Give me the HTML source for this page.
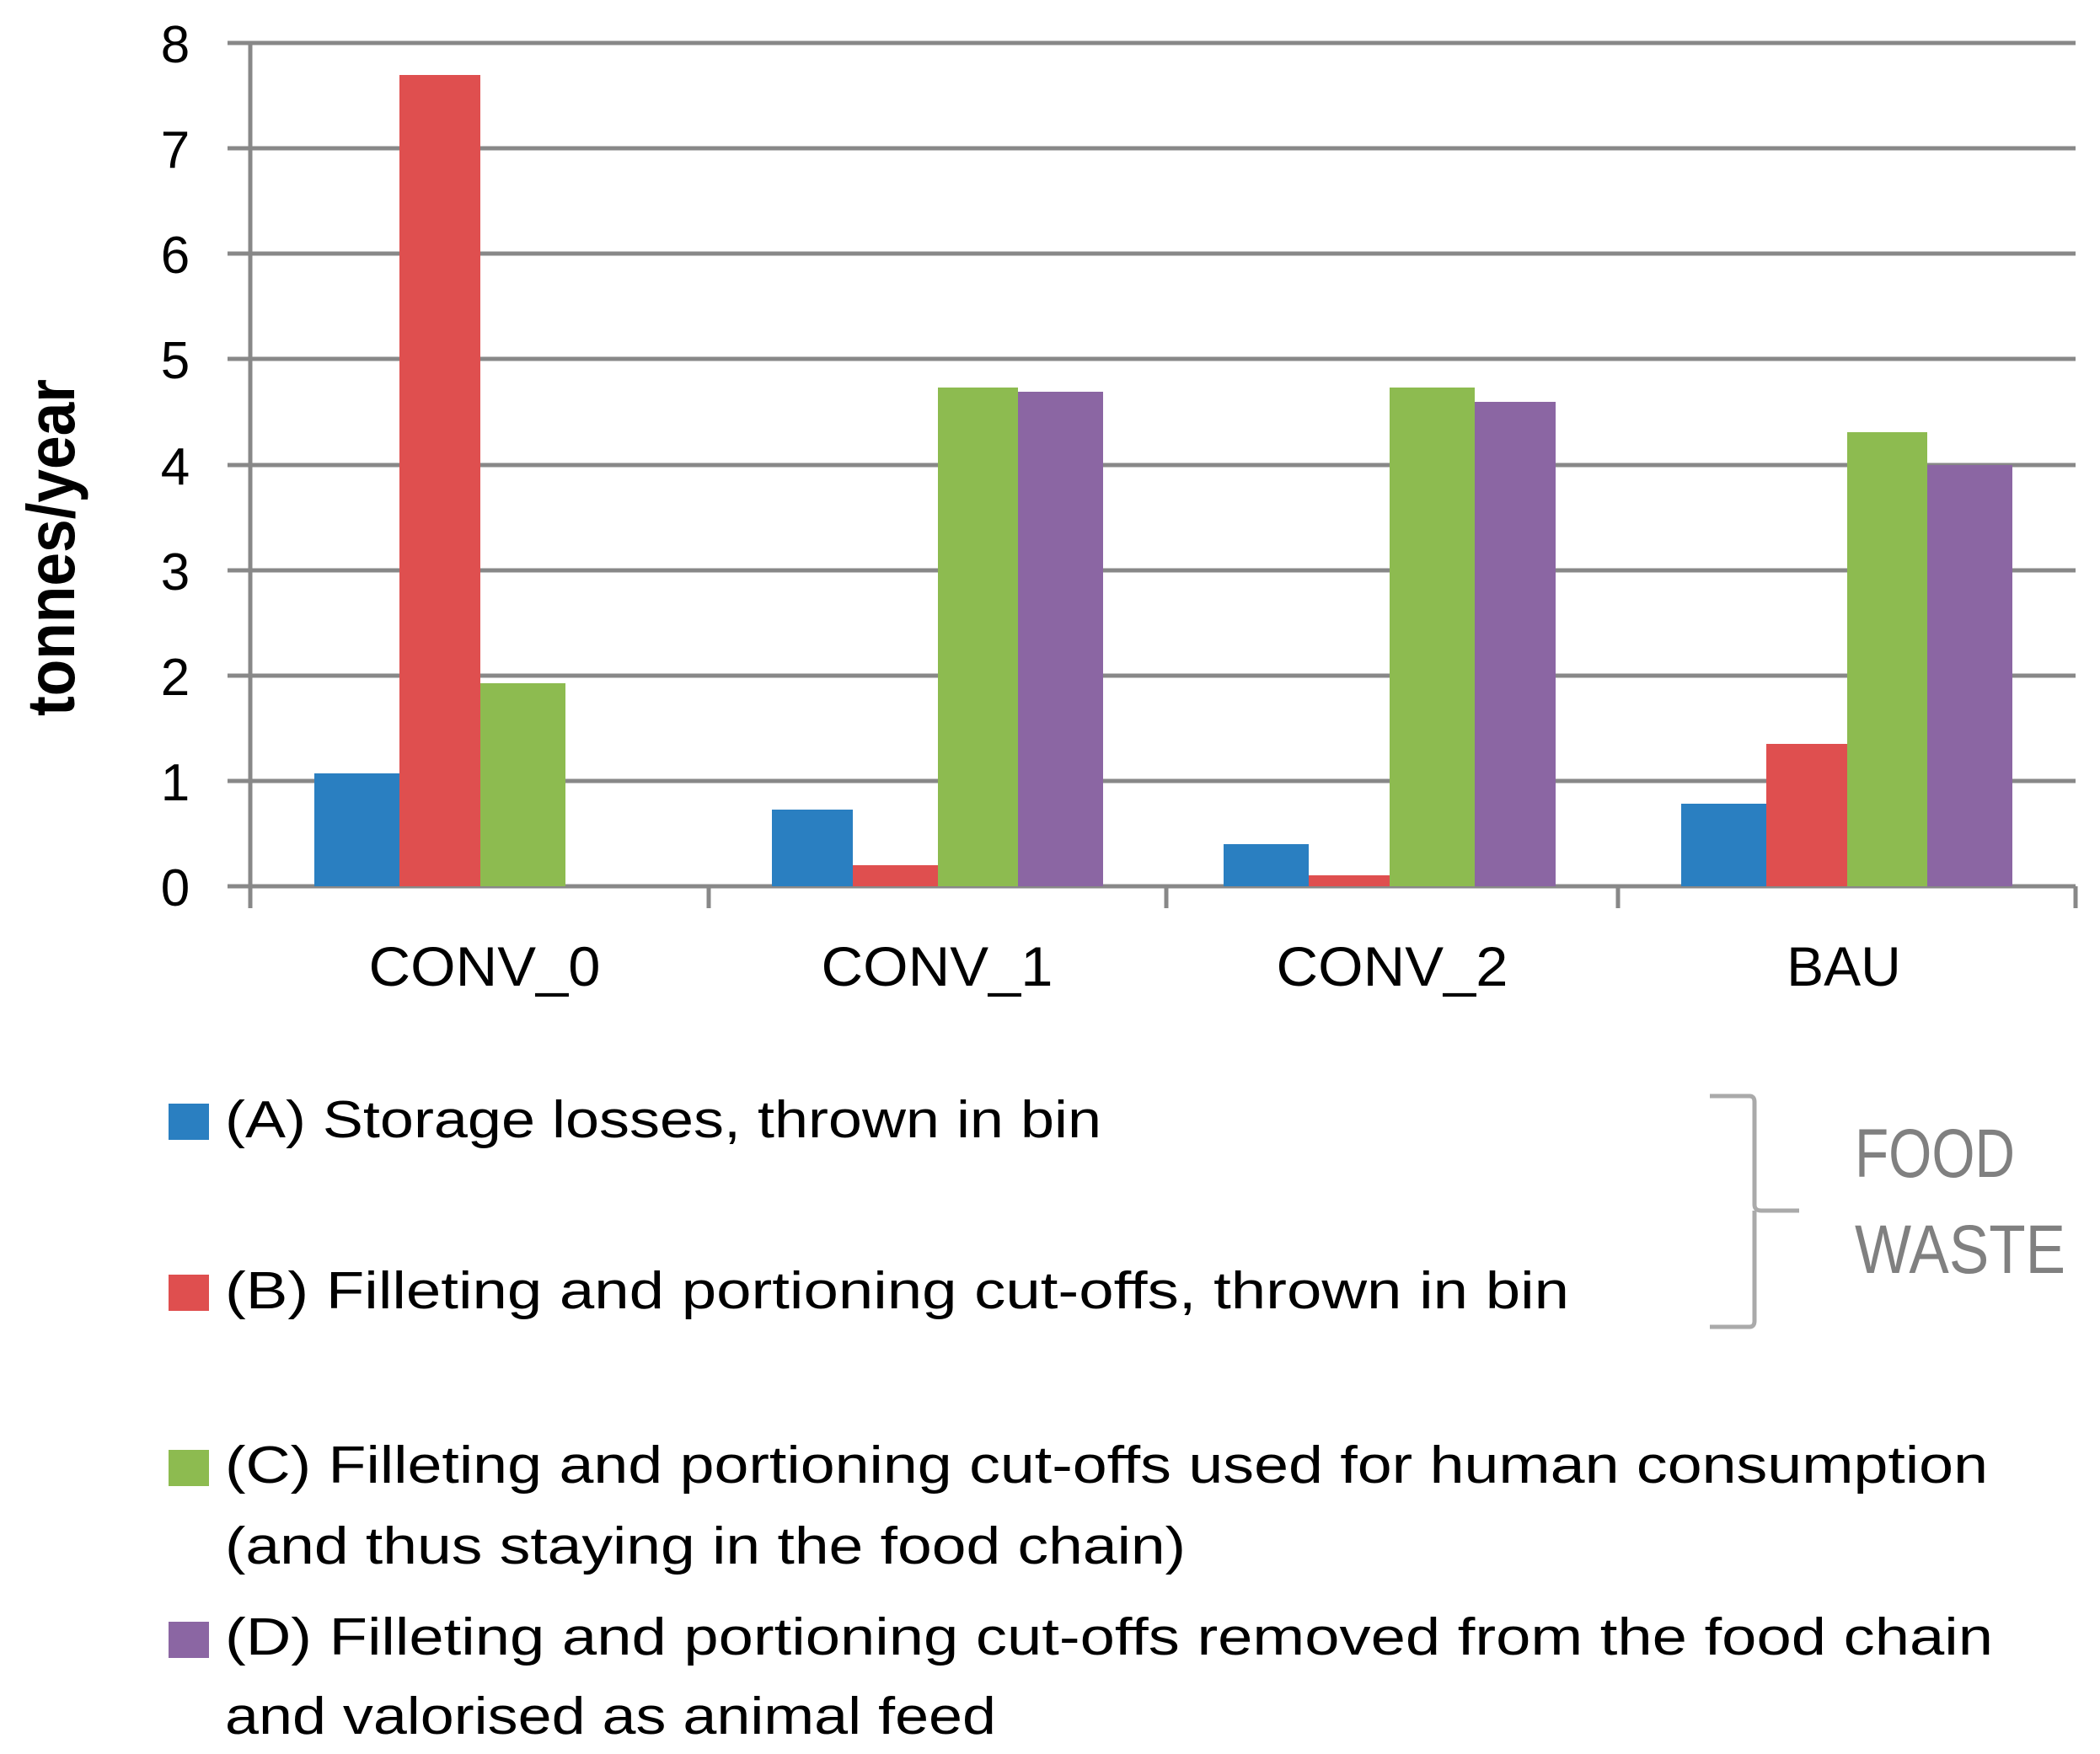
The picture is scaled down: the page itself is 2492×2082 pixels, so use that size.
<!DOCTYPE html>
<html><head><meta charset="utf-8"><style>
html,body{margin:0;padding:0;background:#fff;}
svg{display:block;}
text{font-family:"Liberation Sans",sans-serif;}
</style></head><body>
<svg width="2492" height="2082" viewBox="0 0 2492 2082" xmlns="http://www.w3.org/2000/svg">
<g stroke="#888" stroke-width="5">
<line x1="270" y1="51" x2="2463" y2="51"/>
<line x1="270" y1="176" x2="2463" y2="176"/>
<line x1="270" y1="301" x2="2463" y2="301"/>
<line x1="270" y1="426" x2="2463" y2="426"/>
<line x1="270" y1="552" x2="2463" y2="552"/>
<line x1="270" y1="677" x2="2463" y2="677"/>
<line x1="270" y1="802" x2="2463" y2="802"/>
<line x1="270" y1="927" x2="2463" y2="927"/>
<line x1="270" y1="1052" x2="2463" y2="1052"/>
<line x1="297" y1="51" x2="297" y2="1078"/>
<line x1="841" y1="1052" x2="841" y2="1078"/>
<line x1="1384" y1="1052" x2="1384" y2="1078"/>
<line x1="1920" y1="1052" x2="1920" y2="1078"/>
<line x1="2463" y1="1052" x2="2463" y2="1078"/>
</g>
<g>
<rect x="373" y="918" width="101" height="134" fill="#2A7FC1"/>
<rect x="474" y="89" width="96" height="963" fill="#DF4F4F"/>
<rect x="570" y="811" width="101" height="241" fill="#8DBB50"/>
<rect x="916" y="961" width="96" height="91" fill="#2A7FC1"/>
<rect x="1012" y="1027" width="101" height="25" fill="#DF4F4F"/>
<rect x="1113" y="460" width="95" height="592" fill="#8DBB50"/>
<rect x="1208" y="465" width="101" height="587" fill="#8B66A3"/>
<rect x="1452" y="1002" width="101" height="50" fill="#2A7FC1"/>
<rect x="1553" y="1039" width="96" height="13" fill="#DF4F4F"/>
<rect x="1649" y="460" width="101" height="592" fill="#8DBB50"/>
<rect x="1750" y="477" width="96" height="575" fill="#8B66A3"/>
<rect x="1995" y="954" width="101" height="98" fill="#2A7FC1"/>
<rect x="2096" y="883" width="96" height="169" fill="#DF4F4F"/>
<rect x="2192" y="513" width="95" height="539" fill="#8DBB50"/>
<rect x="2287" y="552" width="101" height="500" fill="#8B66A3"/>
</g>
<g font-size="62" text-anchor="middle" fill="#000">
<text x="208" y="74">8</text>
<text x="208" y="199">7</text>
<text x="208" y="324">6</text>
<text x="208" y="449">5</text>
<text x="208" y="575">4</text>
<text x="208" y="700">3</text>
<text x="208" y="825">2</text>
<text x="208" y="950">1</text>
<text x="208" y="1075">0</text>
</g>
<g font-size="66" text-anchor="middle" fill="#000">
<text x="575" y="1170" textLength="275" lengthAdjust="spacingAndGlyphs">CONV_0</text>
<text x="1112" y="1170" textLength="275" lengthAdjust="spacingAndGlyphs">CONV_1</text>
<text x="1652" y="1170" textLength="275" lengthAdjust="spacingAndGlyphs">CONV_2</text>
<text x="2188" y="1170">BAU</text>
</g>
<text transform="translate(88,650) rotate(-90)" font-size="80" font-weight="bold" text-anchor="middle" textLength="400" lengthAdjust="spacingAndGlyphs">tonnes/year</text>
<rect x="200" y="1310" width="48" height="43" fill="#2A7FC1"/>
<rect x="200" y="1513" width="48" height="43" fill="#DF4F4F"/>
<rect x="200" y="1721" width="48" height="43" fill="#8DBB50"/>
<rect x="200" y="1925" width="48" height="43" fill="#8B66A3"/>
<g font-size="62" fill="#000">
<text x="267" y="1350" textLength="1040" lengthAdjust="spacingAndGlyphs">(A) Storage losses, thrown in bin</text>
<text x="267" y="1553" textLength="1595" lengthAdjust="spacingAndGlyphs">(B) Filleting and portioning cut-offs, thrown in bin</text>
<text x="267" y="1760" textLength="2092" lengthAdjust="spacingAndGlyphs">(C) Filleting and portioning cut-offs used for human consumption</text>
<text x="267" y="1856" textLength="1140" lengthAdjust="spacingAndGlyphs">(and thus staying in the food chain)</text>
<text x="267" y="1964" textLength="2098" lengthAdjust="spacingAndGlyphs">(D) Filleting and portioning cut-offs removed from the food chain</text>
<text x="267" y="2058" textLength="915" lengthAdjust="spacingAndGlyphs">and valorised as animal feed</text>
</g>
<path d="M2029,1301 H2076 Q2082,1301 2082,1308 V1430 Q2082,1437 2090,1437 H2135 M2082,1437 Q2082,1444 2082,1450 V1568 Q2082,1575 2076,1575 H2029" fill="none" stroke="#aaa" stroke-width="5"/>
<g font-size="82" fill="#808080">
<text x="2201" y="1397" textLength="190" lengthAdjust="spacingAndGlyphs">FOOD</text>
<text x="2201" y="1511" textLength="250" lengthAdjust="spacingAndGlyphs">WASTE</text>
</g>
</svg>
</body></html>
